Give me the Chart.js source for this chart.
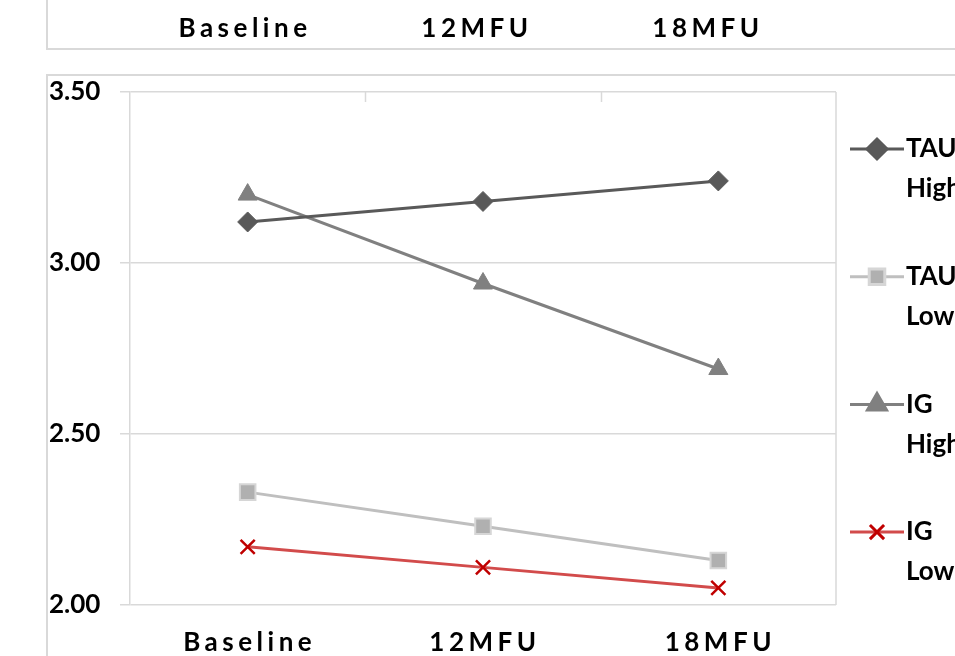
<!DOCTYPE html>
<html>
<head>
<meta charset="utf-8">
<script src="https://cdn.jsdelivr.net/npm/chart.js@4.4.1/dist/chart.umd.min.js"></script>
<style>
  html, body { margin: 0; padding: 0; background: #fff; }
  #wrap { position: relative; width: 955px; height: 656px; }
</style>
</head>
<body>
<div id="wrap"><canvas id="chart1" width="955" height="656"></canvas></div>
<script>
// categories and series
const categories = ['Baseline', '12MFU', '18MFU'];
const seriesNames = ['TAU High', 'TAU Low', 'IG High', 'IG Low'];
const tauHigh = [3.12, 3.18, 3.24];
const tauLow = [2.33, 2.23, 2.13];
const igHigh = [3.20, 2.94, 2.69];
const igLow = [2.17, 2.11, 2.05];
const yTicks = [2.00, 2.50, 3.00, 3.50];

const labelFont = 'bold 26px Lato, "Open Sans", sans-serif';

// frames, top strip of previous chart, category ticks and legend
const decor = {
    id: 'decor',
    beforeDraw(chart) {
        const ctx = chart.ctx;
        ctx.save();
        ctx.strokeStyle = '#d9d9d9';
        ctx.lineWidth = 2;
        // remnant of the chart above
        ctx.beginPath();
        ctx.moveTo(47, 0); ctx.lineTo(47, 49); ctx.lineTo(960, 49);
        ctx.stroke();
        // frame of this chart
        ctx.beginPath();
        ctx.moveTo(47, 660); ctx.lineTo(47, 75); ctx.lineTo(960, 75);
        ctx.stroke();
        ctx.restore();
    },
    afterDraw(chart) {
        const ctx = chart.ctx;
        const area = chart.chartArea;
        const x = chart.scales.x;
        ctx.save();
        // right border of plot area
        ctx.strokeStyle = '#d9d9d9';
        ctx.lineWidth = 1.5;
        ctx.beginPath();
        ctx.moveTo(area.right, area.top); ctx.lineTo(area.right, area.bottom);
        ctx.stroke();
        // category boundary ticks hanging from the top
        for (let i = 1; i < categories.length; i++) {
            const bx = Math.round((x.getPixelForTick(i - 1) + x.getPixelForTick(i)) / 2) + 0.5;
            ctx.beginPath();
            ctx.moveTo(bx, area.top); ctx.lineTo(bx, area.top + 10);
            ctx.stroke();
        }
        // category labels, letter spaced
        ctx.fillStyle = '#000';
        ctx.font = labelFont;
        ctx.letterSpacing = '4.5px';
        ctx.textAlign = 'center';
        ctx.textBaseline = 'middle';
        categories.forEach((c, i) => {
            ctx.fillText(c, x.getPixelForTick(i) + 2, 643);
        });
        // labels of the chart above (cut off)
        const topX = [243, 475, 706];
        categories.forEach((c, i) => {
            ctx.fillText(c, topX[i] + 2, 29);
        });
        ctx.letterSpacing = '0px';
        // legend
        ctx.textAlign = 'left';
        chart.data.datasets.forEach((ds, i) => {
            const ly = 149 + i * 127.7;
            ctx.strokeStyle = ds.borderColor;
            ctx.lineWidth = 3;
            ctx.beginPath();
            ctx.moveTo(850, ly); ctx.lineTo(904, ly);
            ctx.stroke();
            ctx.fillStyle = ds.pointBackgroundColor;
            ctx.strokeStyle = ds.pointBorderColor;
            Chart.helpers.drawPoint(ctx, {
                pointStyle: ds.pointStyle,
                radius: ds.pointRadius,
                borderWidth: ds.pointBorderWidth,
                rotation: 0
            }, 877, ly);
            ctx.fillStyle = '#000';
            ctx.font = labelFont;
            const parts = ds.label.split(' ');
            ctx.fillText(parts[0], 906, ly);
            ctx.fillText(parts[1], 906, ly + 40);
        });
        ctx.restore();
    }
};

const ctx = document.getElementById('chart1').getContext('2d');
new Chart(ctx, {
    type: 'line',
    data: {
        labels: categories,
        datasets: [{
            label: seriesNames[0],
            data: tauHigh,
            borderColor: '#595959',
            borderWidth: 3,
            pointStyle: 'rectRot',
            pointRadius: 10,
            pointBackgroundColor: '#595959',
            pointBorderColor: '#595959',
            pointBorderWidth: 1
        }, {
            label: seriesNames[1],
            data: tauLow,
            borderColor: '#bfbfbf',
            borderWidth: 3,
            pointStyle: 'rect',
            pointRadius: 11,
            pointBackgroundColor: '#b0b0b0',
            pointBorderColor: '#d6d6d6',
            pointBorderWidth: 2
        }, {
            label: seriesNames[2],
            data: igHigh,
            borderColor: '#808080',
            borderWidth: 3,
            pointStyle: 'triangle',
            pointRadius: 11,
            pointBackgroundColor: '#808080',
            pointBorderColor: '#808080',
            pointBorderWidth: 1
        }, {
            label: seriesNames[3],
            data: igLow,
            borderColor: '#d24b4b',
            borderWidth: 3,
            pointStyle: 'crossRot',
            pointRadius: 10,
            pointBackgroundColor: '#c00000',
            pointBorderColor: '#c00000',
            pointBorderWidth: 2.5
        }]
    },
    options: {
        responsive: false,
        animation: false,
        layout: { padding: { left: 49, top: 92, right: 119, bottom: 0 } },
        plugins: { legend: { display: false }, tooltip: { enabled: false } },
        elements: { line: { tension: 0 } },
        scales: {
            x: {
                offset: true,
                grid: { display: false },
                border: { display: false },
                ticks: { display: false },
                afterFit(scale) { scale.height = 51; }
            },
            y: {
                min: 2,
                max: 3.5,
                afterBuildTicks(scale) { scale.ticks = yTicks.map(v => ({ value: v })); },
                afterFit(scale) { scale.width = 81; },
                grid: { color: '#d9d9d9', lineWidth: 1.5, tickLength: 10, tickColor: '#d9d9d9' },
                border: { color: '#d9d9d9', width: 1.5 },
                ticks: {
                    crossAlign: 'far',
                    color: '#000',
                    padding: 0,
                    font: { family: 'Lato, "Open Sans", sans-serif', size: 26, weight: 'bold' },
                    callback: v => Number(v).toFixed(2)
                }
            }
        }
    },
    plugins: [decor]
});
</script>
</body>
</html>
